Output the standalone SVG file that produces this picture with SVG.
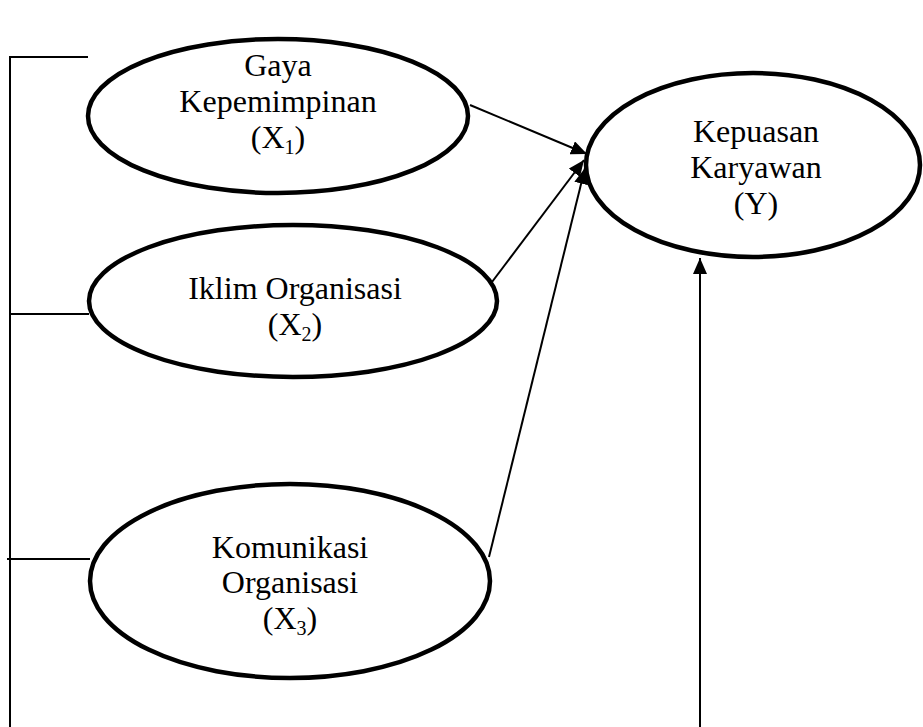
<svg xmlns="http://www.w3.org/2000/svg" width="923" height="727" viewBox="0 0 923 727">
<style>
.node{fill:#fff;stroke:#000;stroke-width:4.5}
.t{font-family:"Liberation Serif","Times New Roman",serif;font-size:32px;fill:#000;text-anchor:middle}
.sub{font-size:20px}
.arr{stroke:#000;stroke-width:2;fill:none;marker-end:url(#ah)}
.ln{stroke:#000;stroke-width:2;fill:none}
</style>
<defs>
<marker id="ah" markerUnits="userSpaceOnUse" markerWidth="18" markerHeight="14" refX="16" refY="7" orient="auto">
<path d="M0,0 L16,7 L0,14 Z" fill="#000"/>
</marker>
</defs>
<rect width="923" height="727" fill="#fff"/>
<g id="connectors">
<polyline class="ln" points="88,57 10,57 10,727"/>
<line class="ln" x1="10" y1="314" x2="89" y2="314"/>
<line class="ln" x1="7" y1="559" x2="90" y2="559"/>
<line class="arr" x1="470" y1="105" x2="587" y2="154"/>
<line class="arr" x1="492" y1="282" x2="584" y2="160"/>
<line class="arr" x1="489" y1="557" x2="585" y2="168"/>
<line class="arr" x1="700" y1="727" x2="700" y2="258"/>
</g>
<g id="x1">
<ellipse class="node" cx="278" cy="116" rx="190" ry="77"/>
<text class="t" x="278" y="76">Gaya</text>
<text class="t" x="278" y="112">Kepemimpinan</text>
<text class="t" x="278" y="148">(X<tspan class="sub" dy="6">1</tspan><tspan dy="-6">)</tspan></text>
</g>
<g id="x2">
<ellipse class="node" cx="293" cy="301" rx="204" ry="76"/>
<text class="t" x="295" y="299">Iklim Organisasi</text>
<text class="t" x="295" y="335">(X<tspan class="sub" dy="6">2</tspan><tspan dy="-6">)</tspan></text>
</g>
<g id="x3">
<ellipse class="node" cx="290" cy="581" rx="200" ry="97"/>
<text class="t" x="290" y="558">Komunikasi</text>
<text class="t" x="290" y="593">Organisasi</text>
<text class="t" x="290" y="629">(X<tspan class="sub" dy="6">3</tspan><tspan dy="-6">)</tspan></text>
</g>
<g id="y">
<ellipse class="node" cx="753" cy="165" rx="167" ry="92"/>
<text class="t" x="756" y="142">Kepuasan</text>
<text class="t" x="756" y="178">Karyawan</text>
<text class="t" x="756" y="214">(Y)</text>
</g>
</svg>
